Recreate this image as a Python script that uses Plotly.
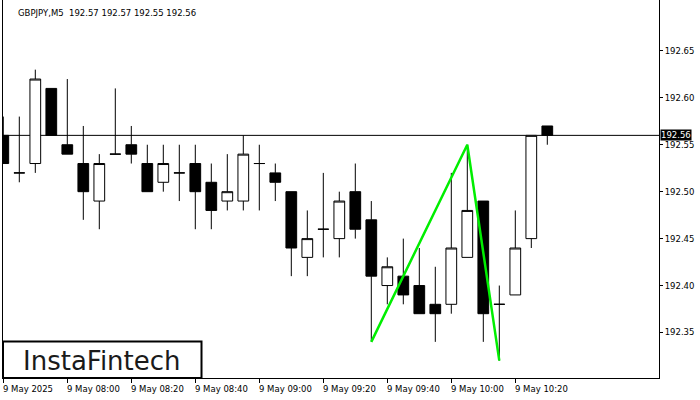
import plotly.graph_objects as go

# ---- data ----
bar_times = ["07:40", "07:45", "07:50", "07:55", "08:00", "08:05", "08:10", "08:15",
             "08:20", "08:25", "08:30", "08:35", "08:40", "08:45", "08:50", "08:55",
             "09:00", "09:05", "09:10", "09:15", "09:20", "09:25", "09:30", "09:35",
             "09:40", "09:45", "09:50", "09:55", "10:00", "10:05", "10:10", "10:15",
             "10:20", "10:25", "10:30"]
opens = [192.56, 192.52, 192.53, 192.61, 192.55, 192.53, 192.49, 192.54,
         192.55, 192.53, 192.51, 192.52, 192.53, 192.51, 192.49, 192.49,
         192.53, 192.52, 192.50, 192.43, 192.46, 192.45, 192.50, 192.47,
         192.40, 192.41, 192.40, 192.38, 192.38, 192.43, 192.49, 192.38,
         192.39, 192.45, 192.57]
highs = [192.58, 192.58, 192.63, 192.61, 192.62, 192.57, 192.54, 192.61,
         192.57, 192.55, 192.55, 192.55, 192.55, 192.53, 192.54, 192.56,
         192.55, 192.53, 192.50, 192.48, 192.52, 192.50, 192.53, 192.49,
         192.43, 192.45, 192.44, 192.42, 192.52, 192.55, 192.49, 192.40,
         192.48, 192.56, 192.57]
lows = [192.53, 192.51, 192.52, 192.56, 192.54, 192.47, 192.46, 192.54,
        192.53, 192.50, 192.50, 192.49, 192.46, 192.46, 192.48, 192.48,
        192.48, 192.49, 192.41, 192.41, 192.43, 192.43, 192.45, 192.34,
        192.38, 192.38, 192.37, 192.34, 192.37, 192.43, 192.34, 192.32,
        192.39, 192.44, 192.55]
closes = [192.53, 192.52, 192.62, 192.56, 192.54, 192.50, 192.53, 192.54,
          192.54, 192.50, 192.53, 192.52, 192.50, 192.48, 192.50, 192.54,
          192.53, 192.51, 192.44, 192.45, 192.46, 192.49, 192.46, 192.41,
          192.42, 192.39, 192.37, 192.37, 192.44, 192.48, 192.37, 192.38,
          192.44, 192.56, 192.56]

x_tick_index = [0, 4, 8, 12, 16, 20, 24, 28, 32]
x_tick_labels = ["9 May 2025", "9 May 08:00", "9 May 08:20", "9 May 08:40", "9 May 09:00",
                 "9 May 09:20", "9 May 09:40", "9 May 10:00", "9 May 10:20"]
y_tick_values = [192.35, 192.40, 192.45, 192.50, 192.55, 192.60, 192.65]
y_tick_labels = ["192.35", "192.40", "192.45", "192.50", "192.55", "192.60", "192.65"]

pattern_index = [23, 29, 31]
pattern_price = [192.34, 192.55, 192.32]

symbol_title = "GBPJPY,M5  192.57 192.57 192.55 192.56"
current_price = 192.56
current_price_label = "192.56"
logo_text = "InstaFintech"

FONT = "DejaVu Sans"
x_index = list(range(len(bar_times)))

fig = go.Figure()
fig.add_trace(go.Candlestick(
    x=x_index, open=opens, high=highs, low=lows, close=closes,
    increasing=dict(line=dict(color="black", width=1), fillcolor="white"),
    decreasing=dict(line=dict(color="black", width=1), fillcolor="black"),
    whiskerwidth=0, hoverinfo="skip", showlegend=False,
))
fig.add_trace(go.Scatter(
    x=pattern_index, y=pattern_price, mode="lines",
    line=dict(color="#00ee00", width=2.5), hoverinfo="skip", showlegend=False,
))

# current price line
fig.add_shape(type="line", xref="paper", x0=0, x1=1, yref="y",
              y0=current_price, y1=current_price,
              line=dict(color="black", width=1), layer="below")

annotations = []
for xi, lab in zip(x_tick_index, x_tick_labels):
    annotations.append(dict(x=xi, xref="x", y=-0.029, yref="paper", text=lab,
                            showarrow=False, xanchor="left", yanchor="middle",
                            xshift=-1, borderpad=0,
                            font=dict(family=FONT, size=8.5, color="black")))
annotations.append(dict(x=0.021, xref="paper", y=0.965, yref="paper", text=symbol_title,
                        showarrow=False, xanchor="left", yanchor="middle", borderpad=0,
                        font=dict(family=FONT, size=8.5, color="black")))
annotations.append(dict(x=1, xref="paper", y=current_price, yref="y",
                        text=current_price_label, showarrow=False, xanchor="left",
                        yanchor="middle", xshift=1, borderpad=0, bgcolor="black",
                        font=dict(family=FONT, size=8.5, color="white")))
annotations.append(dict(x=0.151, xref="paper", y=0.046, yref="paper", text=logo_text,
                        showarrow=False, xanchor="center", yanchor="middle",
                        font=dict(family=FONT, size=26, color="#1a1a1a")))

fig.add_shape(type="rect", xref="paper", yref="paper", x0=0.0, x1=0.3026, y0=0.0, y1=0.0966,
              line=dict(color="black", width=2), fillcolor="white", layer="above")

fig.update_layout(
    width=700, height=400,
    margin=dict(l=3, r=41, t=0, b=22),
    paper_bgcolor="white", plot_bgcolor="white",
    boxgap=0.33, boxgroupgap=0,
    annotations=annotations,
    xaxis=dict(range=[-0.019, 40.981], showgrid=False, zeroline=False,
               showline=True, linecolor="black", linewidth=1, mirror=False,
               ticks="outside", ticklen=4, tickcolor="black",
               tickvals=x_tick_index, showticklabels=False,
               rangeslider=dict(visible=False), fixedrange=True),
    yaxis=dict(range=[192.3015, 192.7042], side="right", showgrid=False, zeroline=False,
               showline=True, linecolor="black", linewidth=1, mirror=True,
               ticks="outside", ticklen=3, tickcolor="black",
               tickvals=y_tick_values, ticktext=y_tick_labels,
               tickfont=dict(family=FONT, size=8.5, color="black"), fixedrange=True),
)

fig.write_html("out.html", config={"displayModeBar": False},
               post_script="document.body.style.margin='0';document.body.style.overflow='hidden';")
